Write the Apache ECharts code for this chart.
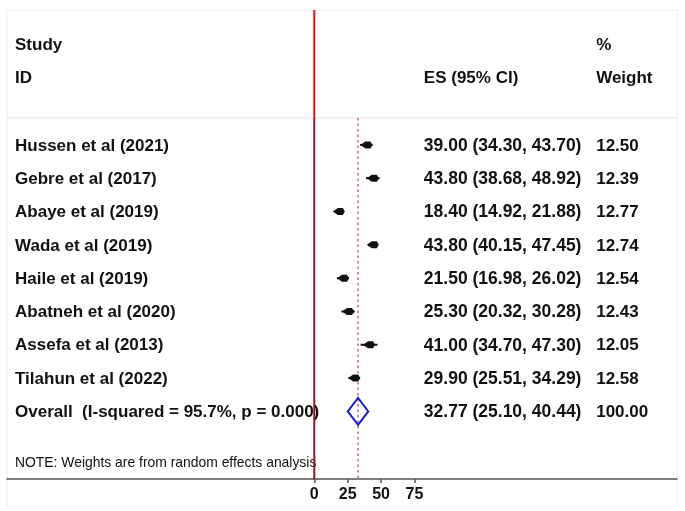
<!DOCTYPE html>
<html>
<head>
<meta charset="utf-8">
<script src="https://cdn.jsdelivr.net/npm/echarts@6/dist/echarts.min.js"></script>
<style>
html,body{margin:0;padding:0;background:#fff;}
#chart{width:685px;height:511px;}
</style>
</head>
<body>
<div id="chart"></div>
<script>
// ---- data ----
const studies = ["Hussen et al (2021)","Gebre et al (2017)","Abaye et al (2019)","Wada et al (2019)","Haile et al (2019)","Abatneh et al (2020)","Assefa et al (2013)","Tilahun et al (2022)"];
const esValues = [39.00, 43.80, 18.40, 43.80, 21.50, 25.30, 41.00, 29.90];
const ciLow    = [34.30, 38.68, 14.92, 40.15, 16.98, 20.32, 34.70, 25.51];
const ciHigh   = [43.70, 48.92, 21.88, 47.45, 26.02, 30.28, 47.30, 34.29];
const weights  = [12.50, 12.39, 12.77, 12.74, 12.54, 12.43, 12.05, 12.58];
const overallLabel = "Overall  (I-squared = 95.7%, p = 0.000)";
const overallES = 32.77, overallLow = 25.10, overallHigh = 40.44, overallWeight = 100.00;
const tickValues = [0, 25, 50, 75];
const headerLeft = ["Study", "ID"];
const headerES = "ES (95% CI)";
const headerWeight = ["%", "Weight"];
const noteText = "NOTE: Weights are from random effects analysis";

// ---- layout constants (data units) ----
const X_MIN = -230, X_MAX = 271.5;
const Y_MIN = -4.05, Y_MAX = 10.03;
const COL_STUDY = -224, COL_ES = 82, COL_W = 211;
const HEADER_SEP = -0.81;
const OVERALL_ROW = studies.length;

const FONT = '"Liberation Sans", Arial, sans-serif';
const txt = (x, y, s, size, weight) => ({
  type: 'text', x: x, y: y,
  style: { text: s, fill: '#111', font: (weight||'bold') + ' ' + (size||17) + 'px ' + FONT, textVerticalAlign: 'middle', textAlign: 'left' }
});

const studyData = studies.map((s, i) => [esValues[i], ciLow[i], ciHigh[i], i]);

const chart = echarts.init(document.getElementById('chart'), null, {renderer: 'canvas'});
chart.setOption({
  animation: false,
  backgroundColor: '#fff',
  graphic: [
    { type: 'rect', shape: {x: 7, y: 10, width: 670, height: 497}, style: {fill: 'none', stroke: '#ececec', lineWidth: 1}, z: 0 }
  ],
  grid: { left: 7, right: 8, top: 10, bottom: 32 },
  xAxis: {
    type: 'value', min: X_MIN, max: X_MAX,
    axisLine: { show: true, onZero: false, lineStyle: { color: '#555', width: 1.5 } },
    axisTick: { show: true, customValues: tickValues, length: 4, lineStyle: { color: '#555', width: 1.5 } },
    axisLabel: { customValues: tickValues, color: '#111', fontWeight: 'bold', fontSize: 16, fontFamily: FONT, margin: 8 },
    splitLine: { show: false }
  },
  yAxis: { type: 'value', inverse: true, min: Y_MIN, max: Y_MAX, show: false },
  series: [
    { // header / separator / note
      type: 'custom', z: 2, silent: true,
      data: [[0, 0]],
      renderItem: function (params, api) {
        const a = api.coord([COL_STUDY, -3]), b = api.coord([COL_STUDY, -2]);
        const e = api.coord([COL_ES, -2]);
        const w1 = api.coord([COL_W, -3]), w2 = api.coord([COL_W, -2]);
        const sepL = api.coord([X_MIN, HEADER_SEP]), sepR = api.coord([X_MAX, HEADER_SEP]);
        const n = api.coord([COL_STUDY, 9.55]);
        return { type: 'group', children: [
          txt(a[0], a[1], headerLeft[0]), txt(b[0], b[1], headerLeft[1]),
          txt(e[0], e[1], headerES),
          txt(w1[0], w1[1], headerWeight[0]), txt(w2[0], w2[1], headerWeight[1]),
          { type: 'line', shape: {x1: sepL[0], y1: sepL[1], x2: sepR[0], y2: sepR[1]}, style: {stroke: '#e2e2e2', lineWidth: 1} },
          txt(n[0], n[1], noteText, 13.9, 'normal')
        ]};
      }
    },
    { // overall dashed line
      type: 'custom', z: 3, silent: true,
      data: [[overallES]],
      renderItem: function (params, api) {
        const t = api.coord([api.value(0), HEADER_SEP]), b = api.coord([api.value(0), Y_MAX]);
        return { type: 'line', shape: {x1: t[0], y1: t[1], x2: b[0], y2: b[1]},
          style: { stroke: '#c96c98', lineWidth: 1.6, lineDash: [2.5, 3] } };
      }
    },
    { // studies
      type: 'custom', z: 4, silent: true,
      data: studyData,
      renderItem: function (params, api) {
        const i = params.dataIndex, row = api.value(3);
        const c = api.coord([api.value(0), row]);
        const l = api.coord([api.value(1), row]);
        const h = api.coord([api.value(2), row]);
        const s = api.coord([COL_STUDY, row]), e = api.coord([COL_ES, row]), w = api.coord([COL_W, row]);
        const esTxt = esValues[i].toFixed(2) + ' (' + ciLow[i].toFixed(2) + ', ' + ciHigh[i].toFixed(2) + ')';
        return { type: 'group', children: [
          { type: 'line', shape: {x1: l[0], y1: c[1], x2: h[0], y2: c[1]}, style: {stroke: '#111', lineWidth: 2} },
          { type: 'polygon', shape: {points: [[c[0]-6, c[1]], [c[0]-1, c[1]-3.5], [c[0]+4, c[1]-3.5], [c[0]+6, c[1]], [c[0]+4, c[1]+3.5], [c[0]-1, c[1]+3.5]]}, style: {fill: '#111'} },
          txt(s[0], c[1] + 1, studies[i]),
          txt(e[0], c[1] + 1, esTxt, 17.5),
          txt(w[0], c[1] + 1, weights[i].toFixed(2))
        ]};
      }
    },
    { // overall diamond
      type: 'custom', z: 5, silent: true,
      data: [[overallES, overallLow, overallHigh, OVERALL_ROW]],
      renderItem: function (params, api) {
        const row = api.value(3);
        const l = api.coord([api.value(1), row]), h = api.coord([api.value(2), row]);
        const t = api.coord([api.value(0), row - 0.405]), b = api.coord([api.value(0), row + 0.405]);
        const s = api.coord([COL_STUDY, row]), e = api.coord([COL_ES, row]), w = api.coord([COL_W, row]);
        const esTxt = overallES.toFixed(2) + ' (' + overallLow.toFixed(2) + ', ' + overallHigh.toFixed(2) + ')';
        return { type: 'group', children: [
          { type: 'polygon', shape: {points: [[l[0], l[1]], [t[0], t[1]], [h[0], h[1]], [b[0], b[1]]]}, style: {fill: 'none', stroke: '#1f1fc4', lineWidth: 2} },
          txt(s[0], l[1] + 1, overallLabel),
          txt(e[0], l[1] + 1, esTxt, 17.5),
          txt(w[0], l[1] + 1, overallWeight.toFixed(2))
        ]};
      }
    },
    { // null line at 0
      type: 'custom', z: 6, silent: true,
      data: [[0]],
      renderItem: function (params, api) {
        const t = api.coord([api.value(0), Y_MIN]), m = api.coord([api.value(0), HEADER_SEP]), b = api.coord([api.value(0), Y_MAX]);
        return { type: 'group', children: [
          { type: 'line', shape: {x1: t[0], y1: t[1], x2: m[0], y2: m[1]}, style: {stroke: '#e3121c', lineWidth: 2} },
          { type: 'line', shape: {x1: m[0], y1: m[1], x2: b[0], y2: b[1]}, style: {stroke: '#8e1a22', lineWidth: 2} }
        ]};
      }
    }
  ]
});
</script>
</body>
</html>
